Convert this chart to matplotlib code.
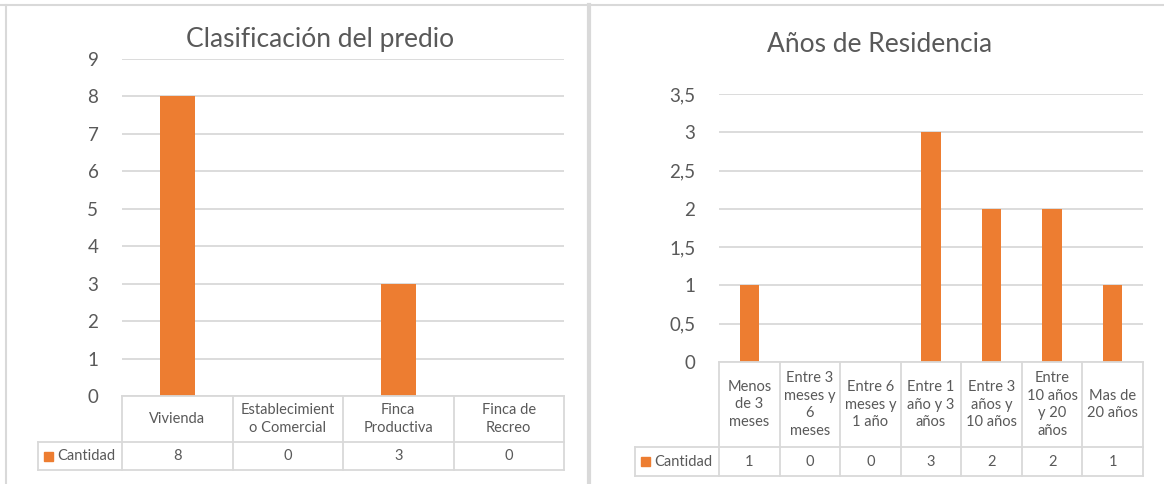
import numpy as np
import matplotlib.pyplot as plt
from matplotlib.lines import Line2D
from matplotlib.patches import Rectangle
from matplotlib.transforms import blended_transform_factory

plt.rcParams['font.family'] = ['Lato', 'DejaVu Sans']

serie = 'Cantidad'

predio_titulo = 'Clasificación del predio'
predio_cats = ['Vivienda', 'Establecimient\no Comercial', 'Finca\nProductiva', 'Finca de\nRecreo']
predio_vals = [8, 0, 3, 0]

residencia_titulo = 'Años de Residencia'
residencia_cats = ['Menos\nde 3\nmeses', 'Entre 3\nmeses y\n6\nmeses', 'Entre 6\nmeses y\n1 año',
                   'Entre 1\naño y 3\naños', 'Entre 3\naños y\n10 años', 'Entre\n10 años\ny 20\naños',
                   'Mas de\n20 años']
residencia_vals = [1, 0, 0, 3, 2, 2, 1]

NARANJA = '#ED7D31'
GRIS = '#D9D9D9'
TEXTO = '#595959'

W, H = 1164, 484
fig = plt.figure(figsize=(W / 100, H / 100), dpi=100)


def fx(px):
    return px / W


def fy(py):
    return 1 - py / H


def linea(x0, y0, x1, y1, lw=1.3):
    fig.add_artist(Line2D([fx(x0), fx(x1)], [fy(y0), fy(y1)], color=GRIS, lw=lw))


# marcos de las dos graficas
linea(0, 5, W, 5, lw=1.5)
linea(6, 5, 6, H, lw=1.5)
linea(589, 5, 589, H, lw=3)


def grafico(caja, cats, vals, ymax, paso, titulo, titulo_xy, filas, x_serie):
    x0, y0, x1, y1 = caja
    ax = fig.add_axes([fx(x0), fy(y1), (x1 - x0) / W, (y1 - y0) / H])
    n = len(cats)
    pos = np.arange(n)
    ax.bar(pos, vals, width=0.32, color=NARANJA, zorder=3)
    ax.set_xlim(-0.5, n - 0.5)
    ax.set_ylim(0, ymax)
    ticks = np.arange(0, ymax + paso / 2, paso)
    ax.set_yticks(ticks)
    ax.set_yticklabels([f'{t:g}'.replace('.', ',') for t in ticks])
    ax.grid(axis='y', color=GRIS, lw=1.3, zorder=0)
    ax.set_xticks([])
    for s in ax.spines.values():
        s.set_visible(False)
    ax.tick_params(axis='y', length=0, pad=17, labelsize=13.5, labelcolor=TEXTO)
    fig.text(fx(titulo_xy[0]), fy(titulo_xy[1]), titulo, ha='center', va='center',
             fontsize=19, color=TEXTO)

    # tabla de datos bajo el eje
    y_cab, y_med, y_pie = filas
    tr = blended_transform_factory(ax.transData, fig.transFigure)
    linea(x0, y_cab, x1, y_cab)
    linea(x_serie, y_med, x1, y_med)
    linea(x_serie, y_pie, x1, y_pie)
    linea(x_serie, y_med, x_serie, y_pie)
    for b in np.arange(n + 1) - 0.5:
        ax.plot([b, b], [fy(y_cab), fy(y_pie)], transform=tr, color=GRIS, lw=1.3, clip_on=False)
    for i, (c, v) in enumerate(zip(cats, vals)):
        ax.text(i, fy((y_cab + y_med) / 2), c, transform=tr, ha='center', va='center',
                fontsize=10.5, color=TEXTO, linespacing=1.35)
        ax.text(i, fy((y_med + y_pie) / 2), str(v), transform=tr, ha='center', va='center',
                fontsize=10.5, color=TEXTO)

    # clave de la serie
    yc = (y_med + y_pie) / 2
    fig.add_artist(Rectangle((fx(x_serie + 6), fy(yc + 4.5)), 9 / W, 9 / H, color=NARANJA))
    fig.text(fx(x_serie + 19), fy(yc), serie, ha='left', va='center', fontsize=10.5, color=TEXTO)
    return ax


grafico((122, 59, 564, 396), predio_cats, predio_vals, 9, 1,
        predio_titulo, (320, 40), (396, 442, 470), 38)
grafico((719, 94, 1143, 362), residencia_cats, residencia_vals, 3.5, 0.5,
        residencia_titulo, (880, 45), (362, 447, 476), 635)

fig.savefig('out.png', dpi=100)
